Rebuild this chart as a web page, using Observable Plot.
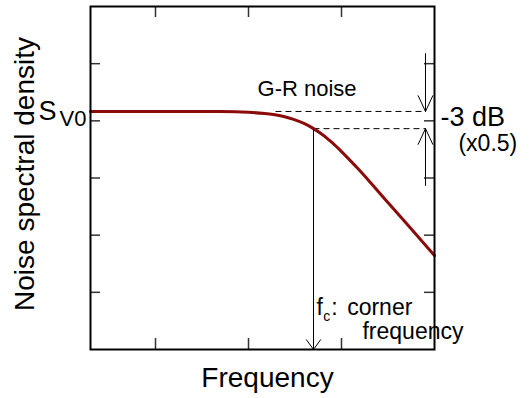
<!DOCTYPE html>
<html>
<head>
<meta charset="utf-8">
<script src="https://cdn.jsdelivr.net/npm/d3@7"></script>
<script src="https://cdn.jsdelivr.net/npm/@observablehq/plot@0.6"></script>
<style>
  html, body { margin: 0; padding: 0; background: #fff; }
  svg { overflow: visible; }
</style>
</head>
<body>
<div id="chart"></div>
<script>
// Curve (frequency, noise spectral density; log–log, arbitrary units)
const freq = [2, 10, 50, 100, 150, 200, 250, 300, 400, 500, 600, 700, 800, 1000, 1500, 2000, 3000, 5000, 10000];
const density = [14600, 14600, 14500, 14100, 13400, 12600, 11700, 10700, 8900, 7300, 6000, 4950, 4100, 2900, 1460, 870, 410, 160, 44];

// Axis ticks (no labels)
const xTicks = [10, 100, 1000];
const yTicks = [10, 100, 1000, 10000, 100000];

// Dashed guide lines: S_V0 level and half level
const dashF1 = [195, 500];
const dashF2 = [8000, 8000];
const dashS = [14600, 7300];

// Arrows
const fcArrow = [{f: 500, s1: 7300, s2: 1}];
const dbArrows = [{f: 8000, s1: 150000, s2: 14600}, {f: 8000, s1: 740, s2: 7300}];

// Annotation texts
const labels = [
  {f: 125, s: 26700, text: "G-R noise", size: 22},
  {f: 11600, s: 8100, text: "-3 dB", size: 27},
  {f: 18100, s: 3000, text: "(x0.5)", size: 23},
  {f: 538, s: 3.94, text: "f", size: 23},
  {f: 635, s: 3.1, text: "c", size: 14},
  {f: 775, s: 3.94, text: ":", size: 23},
  {f: 1150, s: 3.94, text: "corner", size: 23}
];
const labelsEnd = [
  {f: 20500, s: 1.556, text: "frequency", size: 23},
  {f: 0.862, s: 10540, text: "S", size: 27},
  {f: 1.81, s: 8280, text: "V0", size: 22}
];

const curve = freq.map((f, i) => ({f, s: density[i]}));
const dashes = dashS.map((s, i) => ({f1: dashF1[i], f2: dashF2[i], s}));

const font = "Liberation Sans, Arial, Helvetica, sans-serif";

const chart = Plot.plot({
  width: 532,
  height: 398,
  marginLeft: 90,
  marginRight: 98,
  marginTop: 6,
  marginBottom: 49,
  style: {fontFamily: font, background: "#fff", color: "#000", overflow: "visible"},
  x: {type: "log", domain: [2, 10000], axis: null},
  y: {type: "log", domain: [1, 1e6], axis: null},
  marks: [
    // inward ticks
    Plot.tickX(xTicks, {x: d => d, insetTop: 332, stroke: "#333", strokeWidth: 1.5}),
    Plot.tickX(xTicks, {x: d => d, insetBottom: 332, stroke: "#333", strokeWidth: 1.5}),
    Plot.tickY(yTicks, {y: d => d, insetRight: 334, stroke: "#333", strokeWidth: 1.5}),
    Plot.tickY(yTicks, {y: d => d, insetLeft: 334, stroke: "#333", strokeWidth: 1.5}),
    // dashed guides
    Plot.link(dashes, {x1: "f1", x2: "f2", y1: "s", y2: "s", stroke: "#000", strokeWidth: 1, strokeDasharray: "6,4"}),
    // G-R curve
    Plot.line(curve, {x: "f", y: "s", stroke: "#8b0a0a", strokeWidth: 3, curve: "monotone-x"}),
    // arrows
    Plot.arrow(fcArrow, {x: "f", y1: "s1", y2: "s2", stroke: "#000", strokeWidth: 1, headLength: 18, headAngle: 72}),
    Plot.arrow(dbArrows, {x: "f", y1: "s1", y2: "s2", stroke: "#000", strokeWidth: 1, headLength: 26, headAngle: 50}),
    Plot.frame({stroke: "#000", strokeWidth: 2}),
    // annotations
    Plot.text(labels, {x: "f", y: "s", text: "text", fontSize: d => d.size, textAnchor: "start", lineAnchor: "bottom", fill: "#000"}),
    Plot.text(labelsEnd, {x: "f", y: "s", text: "text", fontSize: d => d.size, textAnchor: "end", lineAnchor: "bottom", fill: "#000"}),
    // axis titles
    Plot.text(["Frequency"], {text: d => d, frameAnchor: "bottom", dy: 37, dx: 5, lineAnchor: "bottom", textAnchor: "middle", fontSize: 28, fill: "#000"}),
    Plot.text(["Noise spectral density"], {text: d => d, frameAnchor: "left", dx: -57, dy: -4, rotate: -90, lineAnchor: "bottom", textAnchor: "middle", fontSize: 28, fill: "#000"})
  ]
});
document.getElementById("chart").append(chart);
</script>
</body>
</html>
